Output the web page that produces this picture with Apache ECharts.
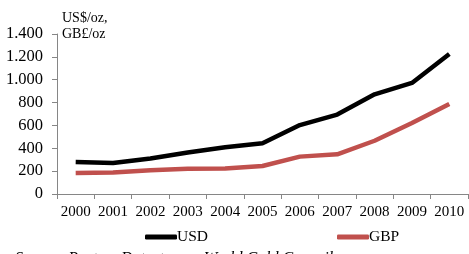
<!DOCTYPE html>
<html><head><meta charset="utf-8">
<script src="https://cdn.jsdelivr.net/npm/echarts@6/dist/echarts.min.js"></script>
<style>html,body{margin:0;padding:0;background:#fff}#c{width:469px;height:254px}</style>
</head><body><div id="c"></div>
<script>
const years = ['2000','2001','2002','2003','2004','2005','2006','2007','2008','2009','2010'];
const usd = [279, 271, 310, 363, 409, 444, 603, 695, 872, 972, 1225];
const gbp = [184, 188, 207, 222, 223, 245, 327, 347, 466, 621, 788];
const yTicks = [0, 200, 400, 600, 800, 1000, 1200, 1400];
const font = 'Liberation Serif';
const chart = echarts.init(document.getElementById('c'));
function fmt(v){ return String(v).replace(/\B(?=(\d{3})+(?!\d))/g, '.'); }
chart.setOption({
  animation: false,
  grid: { left: 57, right: 1, top: 34, bottom: 60, containLabel: false },
  xAxis: {
    type: 'category', data: years, boundaryGap: true,
    axisLine: { lineStyle: { color: '#868686', width: 1 } },
    axisTick: { show: true, length: 5, lineStyle: { color: '#868686' } },
    axisLabel: { color: '#000', fontFamily: font, fontSize: 15, margin: 11, interval: 0 }
  },
  yAxis: {
    type: 'value', min: yTicks[0], max: yTicks[yTicks.length-1], interval: 200,
    axisLine: { show: true, lineStyle: { color: '#868686', width: 1 } },
    axisTick: { show: true, length: 5, lineStyle: { color: '#868686' } },
    splitLine: { show: false },
    axisLabel: { color: '#000', fontFamily: font, fontSize: 16.5, margin: 14, formatter: fmt }
  },
  legend: {
    left: 140, top: 224, itemGap: 129, itemWidth: 32, itemHeight: 5,
    icon: 'roundRect',
    textStyle: { fontFamily: font, fontSize: 15.5, color: '#000', padding: [0,0,0,-5] },
    data: ['USD', 'GBP']
  },
  graphic: [
    { type: 'text', left: 62, top: 10, style: { text: 'US$/oz,\nGB£/oz', font: '14px "Liberation Serif"', fill: '#000', lineHeight: 16 } },
    { type: 'text', left: 15, top: 251, style: { text: 'Source: Reuters Datastream, World Gold Council', font: 'italic 16px "Liberation Serif"', fill: '#000' } }
  ],
  series: [
    { name: 'USD', type: 'line', data: usd, symbol: 'none', lineStyle: { color: '#000', width: 4.5 }, itemStyle: { color: '#000' } },
    { name: 'GBP', type: 'line', data: gbp, symbol: 'none', lineStyle: { color: '#C0504D', width: 4.5 }, itemStyle: { color: '#C0504D' } }
  ]
});
</script></body></html>
